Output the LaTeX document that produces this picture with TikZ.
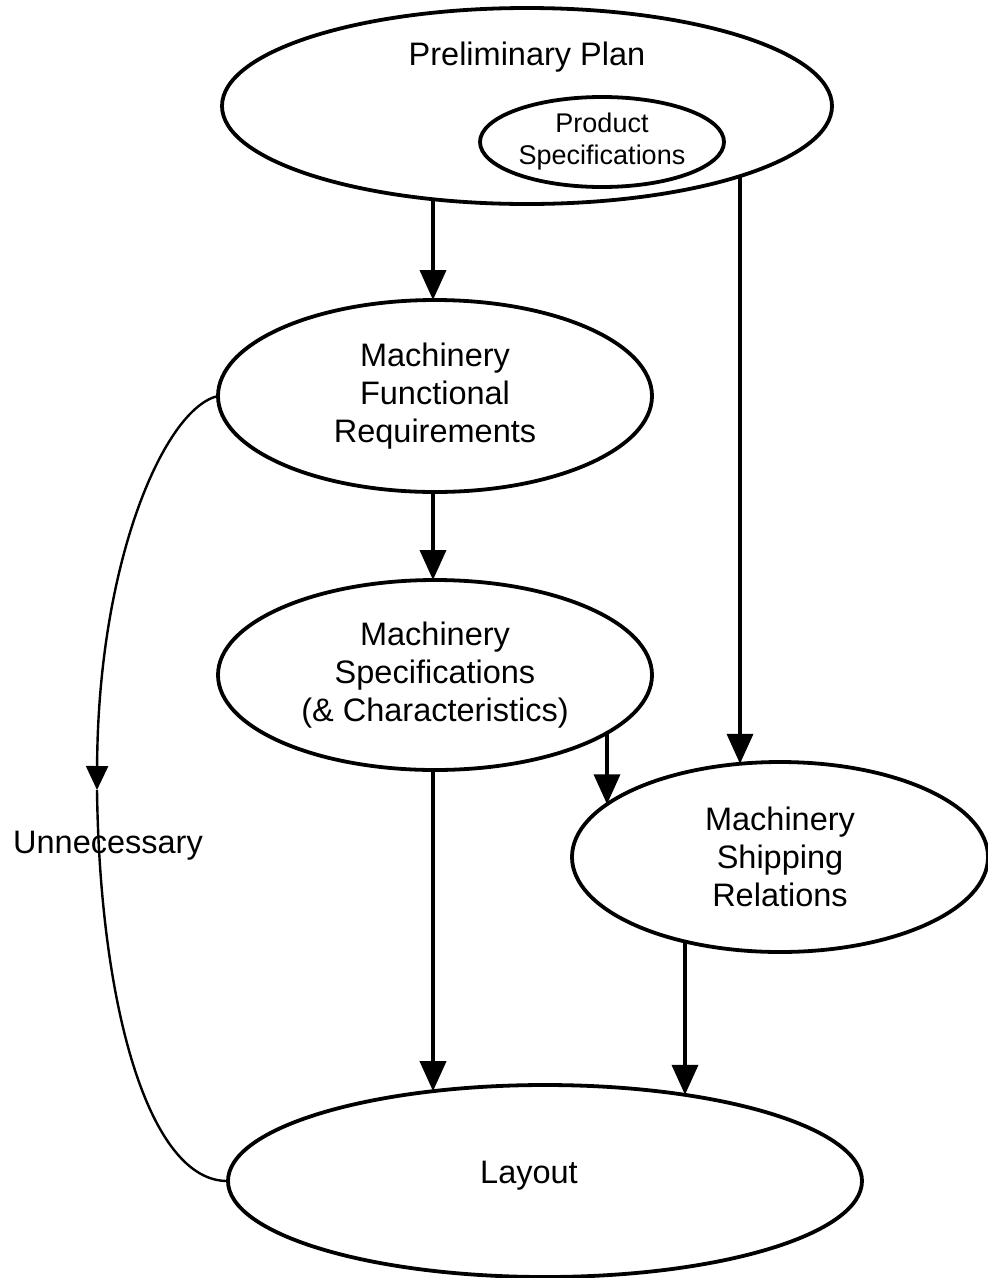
\documentclass[tikz,border=0pt]{standalone}
\usepackage{fontspec}
\setmainfont{Liberation Sans}
\usetikzlibrary{shapes.geometric,arrows.meta,intersections}
\begin{document}
\begin{tikzpicture}[x=1pt,y=-1pt,
  bubble/.style={ellipse,draw,line width=3.8pt,inner sep=0pt,outer sep=0pt},
  txt/.style={align=center,inner sep=0pt,font=\fontsize{32.5}{38}\selectfont},
  smalltxt/.style={align=center,inner sep=0pt,font=\fontsize{27}{32}\selectfont},
  flow/.style={line width=3.8pt,-{Triangle[width=26pt,length=30pt]}},
  bypass/.style={line width=2.4pt,-{Triangle[width=22pt,length=24pt]}},
  plain/.style={line width=2.4pt}]
\useasboundingbox (0,0) rectangle (988,1278);

% planning stages
\node[bubble,name path=pp,minimum width=610pt,minimum height=196pt] (pp) at (527,106) {};
\node[txt] (ppt) at (527,57) {Preliminary Plan};
\node[bubble,minimum width=244pt,minimum height=90pt,smalltxt] (ps) at (602,142)
  {Product\\Specifications};
\node[bubble,name path=fr,minimum width=434pt,minimum height=192pt,txt] (fr) at (435,396)
  {Machinery\\Functional\\Requirements};
\node[bubble,name path=ms,minimum width=434pt,minimum height=190pt,txt] (ms) at (435,675)
  {Machinery\\Specifications\\(\& Characteristics)};
\node[bubble,name path=sh,minimum width=416pt,minimum height=190pt,txt] (sh) at (780,857)
  {Machinery\\Shipping\\Relations};
\node[bubble,name path=lay,minimum width=634pt,minimum height=192pt] (lay) at (545,1181) {};
\node[txt] (layt) at (529,1176) {Layout};

% vertical guides on which the connectors run
\path[name path=va] (433,0) -- (433,1278);
\path[name path=vb] (740,0) -- (740,1278);
\path[name path=vc] (607,0) -- (607,1278);
\path[name path=vd] (685,0) -- (685,1278);

% border points where the connectors meet the ellipses (sorted top to bottom)
\path[name intersections={of=pp and va,sort by=va,name=ppa}];
\path[name intersections={of=pp and vb,sort by=vb,name=ppb}];
\path[name intersections={of=fr and va,sort by=va,name=fra}];
\path[name intersections={of=ms and va,sort by=va,name=msa}];
\path[name intersections={of=ms and vc,sort by=vc,name=msc}];
\path[name intersections={of=sh and vb,sort by=vb,name=shb}];
\path[name intersections={of=sh and vc,sort by=vc,name=shc}];
\path[name intersections={of=sh and vd,sort by=vd,name=shd}];
\path[name intersections={of=lay and va,sort by=va,name=laya}];
\path[name intersections={of=lay and vd,sort by=vd,name=layd}];

% main flow
\draw[flow] (ppa-2) -- (fra-1);
\draw[flow] (ppb-2) -- (shb-1);
\draw[flow] (fra-2) -- (msa-1);
\draw[flow] (msc-2) -- (shc-1);
\draw[flow] (msa-2) -- (laya-1);
\draw[flow] (shd-2) -- (layd-1);

% bypass when the functional requirements make it unnecessary
\coordinate (un) at (97,790);
\draw[bypass] (fr.west) .. controls (165,408) and (98,560) .. (un);
\draw[plain] (un) .. controls (100,1010) and (150,1182) .. (lay.west);
\node[txt] (unt) at (108,846) {Unnecessary};
\end{tikzpicture}
\end{document}
